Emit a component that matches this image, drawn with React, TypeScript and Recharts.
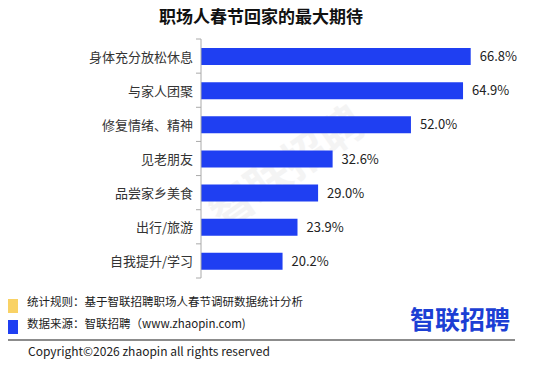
import React from 'react';
import { BarChart, Bar, XAxis, YAxis, LabelList } from 'recharts';

const categories = ['身体充分放松休息', '与家人团聚', '修复情绪、精神', '见老朋友', '品尝家乡美食', '出行/旅游', '自我提升/学习'];
const values = [66.8, 64.9, 52.0, 32.6, 29.0, 23.9, 20.2];

const title = '职场人春节回家的最大期待';
const note1 = '统计规则：基于智联招聘职场人春节调研数据统计分析';
const note2 = '数据来源：智联招聘（www.zhaopin.com)';
const copyright = 'Copyright©2026 zhaopin all rights reserved';
const logo = '智联招聘';

const data = categories.map((name, i) => ({ name, value: values[i] }));

const FONT = '"Noto Sans CJK SC", "Noto Sans", sans-serif';
const W = 550;
const H = 379;
const TOP = 39;
const BOTTOM = 278;
const BAND = (BOTTOM - TOP) / categories.length;

const CatTick = (props: any) => {
  const { x, y, payload, index } = props;
  const ax = x + 8;
  return (
    <g>
      <line x1={ax - 5} x2={ax} y1={y - BAND / 2} y2={y - BAND / 2} stroke="#aaa" strokeWidth={1} />
      {index === categories.length - 1 && (
        <line x1={ax - 5} x2={ax} y1={y + BAND / 2} y2={y + BAND / 2} stroke="#aaa" strokeWidth={1} />
      )}
      <text x={x} y={y} textAnchor="end" dominantBaseline="central" fontSize={13} fill="#333" fontFamily={FONT}>
        {payload.value}
      </text>
    </g>
  );
};

export default function App() {
  return (
    <div style={{ position: 'absolute', left: 0, top: 0, width: W, height: H, background: '#fff' }}>
      <svg width={W} height={H} style={{ position: 'absolute', left: 0, top: 0 }}>
        <text
          x={285}
          y={165}
          textAnchor="middle"
          dominantBaseline="central"
          fontSize={44}
          fontWeight="bold"
          fill="#f4f4f4"
          fontFamily={FONT}
          transform="rotate(-35 285 165)"
        >
          {logo}
        </text>
      </svg>
      <div style={{ position: 'absolute', left: 0, top: 0 }}>
        <BarChart
          width={W}
          height={H}
          data={data}
          layout="vertical"
          margin={{ top: TOP, bottom: H - BOTTOM, left: 0, right: 26 }}
          barCategoryGap={0}
        >
          <XAxis type="number" domain={[0, 80]} hide />
          <YAxis
            type="category"
            dataKey="name"
            width={201}
            axisLine={{ stroke: '#aaa', strokeWidth: 1 }}
            tickLine={false}
            tickSize={5}
            tickMargin={3}
            interval={0}
            tick={<CatTick />}
          />
          <Bar dataKey="value" fill="#1f3ff2" barSize={17} isAnimationActive={false}>
            <LabelList
              dataKey="value"
              position="right"
              offset={9}
              formatter={(v: any) => `${Number(v).toFixed(1)}%`}
              style={{ fontSize: 13, fill: '#222', fontFamily: FONT }}
            />
          </Bar>
        </BarChart>
      </div>
      <svg width={W} height={H} style={{ position: 'absolute', left: 0, top: 0, pointerEvents: 'none' }}>
        <text x={261} y={15} textAnchor="middle" dominantBaseline="central" fontSize={17} fontWeight="bold" fill="#111" fontFamily={FONT}>
          {title}
        </text>
        <rect x={8} y={299} width={10} height={14} fill="#f9d265" />
        <rect x={8} y={320} width={10} height={14} fill="#1f3ff2" />
        <text x={27} y={301} dominantBaseline="central" fontSize={11.5} fill="#222" fontFamily={FONT}>
          {note1}
        </text>
        <text x={27} y={323} dominantBaseline="central" fontSize={11.5} fill="#222" fontFamily={FONT}>
          {note2}
        </text>
        <text x={410} y={318} dominantBaseline="central" fontSize={25} fontWeight="bold" fill="#1c3fd4" fontFamily={FONT}>
          {logo}
        </text>
        <line x1={8} x2={515} y1={340} y2={340} stroke="#666" strokeWidth={1.5} />
        <text x={28} y={350} dominantBaseline="central" fontSize={12} fill="#222" fontFamily={FONT}>
          {copyright}
        </text>
      </svg>
    </div>
  );
}
